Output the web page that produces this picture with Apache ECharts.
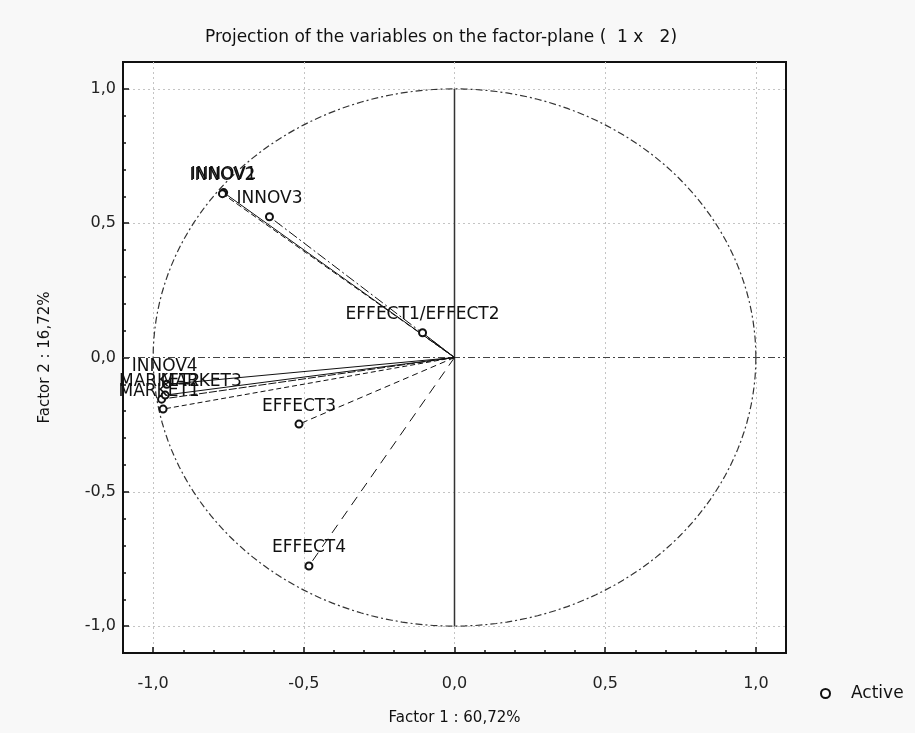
<!DOCTYPE html>
<html>
<head>
<meta charset="utf-8">
<style>
  html, body { margin: 0; padding: 0; background: #f8f8f8; }
  #chart { width: 915px; height: 733px; }
</style>
<script src="https://cdn.jsdelivr.net/npm/echarts@6/dist/echarts.min.js"></script>
</head>
<body>
<div id="chart"></div>
<script>
// variables projected on the factor plane (Factor 1 x Factor 2)
const varNames = ['INNOV1', 'INNOV2', 'INNOV3', 'INNOV4', 'MARKET1', 'MARKET2', 'MARKET3', 'EFFECT1/EFFECT2', 'EFFECT3', 'EFFECT4']
const factor1 = [-0.766, -0.770, -0.614, -0.955, -0.967, -0.972, -0.960, -0.106, -0.516, -0.483]
const factor2 = [0.614, 0.610, 0.524, -0.100, -0.192, -0.155, -0.140, 0.092, -0.248, -0.776]

const font = 'DejaVu Sans, Liberation Sans, Arial, sans-serif'

// line dash of each vector (statistica draws them all a bit differently)
const dashes = ['solid', [6, 3], [10, 3, 2, 3], 'solid', [5, 3], [8, 2], 'solid', 'solid', [6, 4], [10, 7]]
// nudges for the labels that pile up near the left edge
const labelNudge = { 'INNOV4': [-2, 0], 'MARKET1': [-4, 0], 'MARKET2': [-2, 0], 'MARKET3': [36, 4] }

const chart = echarts.init(document.getElementById('chart'))

// unit circle (correlation circle)
const circle = []
for (let a = 0; a <= 360; a += 2) {
  const r = a * Math.PI / 180
  circle.push([Math.cos(r), Math.sin(r)])
}

const vectorSeries = varNames.map((n, i) => ({
  type: 'line',
  name: 'vec_' + n,
  data: [[0, 0], [factor1[i], factor2[i]]],
  symbol: 'none',
  silent: true,
  z: 3,
  lineStyle: { color: '#111', width: 1, type: dashes[i] }
}))

const points = varNames.map((n, i) => ({ name: n, value: [factor1[i], factor2[i]] }))

const tickFmt = v => v.toFixed(1).replace('.', ',')

const option = {
  backgroundColor: '#f8f8f8',
  animation: false,
  title: {
    text: 'Projection of the variables on the factor-plane (  1 x   2)',
    left: 436,
    textAlign: 'center',
    top: 24,
    textStyle: { fontFamily: font, fontSize: 17, fontWeight: 'normal', color: '#111' }
  },
  legend: {
    data: ['Active'],
    left: 815,
    top: 680,
    itemWidth: 9,
    itemHeight: 9,
    itemGap: 10,
    icon: 'emptyCircle',
    itemStyle: { color: '#111', borderColor: '#111', borderWidth: 2.5 },
    textStyle: { fontFamily: font, fontSize: 17, color: '#111', padding: [0, 0, 0, 16] }
  },
  grid: {
    left: 123,
    right: 129,
    top: 62,
    bottom: 80,
    show: true,
    backgroundColor: '#fff',
    borderColor: '#111',
    borderWidth: 2
  },
  xAxis: {
    type: 'value',
    min: -1.1,
    max: 1.1,
    splitNumber: 4,
    name: 'Factor 1 : 60,72%',
    nameLocation: 'middle',
    nameGap: 58,
    nameTextStyle: { fontFamily: font, fontSize: 15, color: '#111' },
    axisLine: { show: true, onZero: false, lineStyle: { color: '#111', width: 2 } },
    axisTick: { show: true, inside: true, length: 6, lineStyle: { color: '#111', width: 1.5 } },
    minorTick: { show: true, splitNumber: 5, length: 3, lineStyle: { color: '#111', width: 1.5 } },
    axisLabel: {
      showMinLabel: false,
      showMaxLabel: false,
      margin: 23,
      fontFamily: font,
      fontSize: 16,
      color: '#222',
      formatter: tickFmt
    },
    splitLine: { show: true, showMinLine: false, showMaxLine: false, lineStyle: { color: '#c4c4c4', type: [2, 3], width: 1 } }
  },
  yAxis: {
    type: 'value',
    min: -1.1,
    max: 1.1,
    splitNumber: 4,
    name: 'Factor 2 : 16,72%',
    nameLocation: 'middle',
    nameRotate: 90,
    nameGap: 70,
    nameTextStyle: { fontFamily: font, fontSize: 15, color: '#111' },
    axisLine: { show: true, onZero: false, lineStyle: { color: '#111', width: 2 } },
    axisTick: { show: true, inside: true, length: 6, lineStyle: { color: '#111', width: 1.5 } },
    minorTick: { show: true, splitNumber: 5, length: 3, lineStyle: { color: '#111', width: 1.5 } },
    axisLabel: {
      showMinLabel: false,
      showMaxLabel: false,
      margin: 7,
      fontFamily: font,
      fontSize: 16,
      color: '#222',
      formatter: tickFmt
    },
    splitLine: { show: true, showMinLine: false, showMaxLine: false, lineStyle: { color: '#c4c4c4', type: [2, 3], width: 1 } }
  },
  series: [
    {
      type: 'line',
      name: 'circle',
      data: circle,
      symbol: 'none',
      silent: true,
      z: 2,
      lineStyle: { color: '#333', width: 1.2, type: [7, 3, 2, 3] }
    },
    {
      type: 'line',
      name: 'axis0',
      data: [[0, -1], [0, 1]],
      symbol: 'none',
      silent: true,
      z: 2,
      lineStyle: { color: '#333', width: 1.5, type: 'solid' }
    },
    {
      type: 'line',
      name: 'hline0',
      data: [[-1.1, 0], [1.1, 0]],
      symbol: 'none',
      silent: true,
      z: 2,
      lineStyle: { color: '#444', width: 1.2, type: [7, 3, 2, 3] }
    },
    ...vectorSeries,
    {
      type: 'scatter',
      name: 'Active',
      data: points,
      symbol: 'emptyCircle',
      symbolSize: 7,
      z: 5,
      itemStyle: { color: '#111', borderColor: '#111', borderWidth: 1.8, opacity: 1 },
      label: {
        show: true,
        position: 'top',
        distance: 5,
        formatter: p => p.name,
        fontFamily: font,
        fontSize: 17,
        color: '#111'
      },
      // labels of the left cluster are pushed around like in the original
      labelLayout: params => {
        const nudge = labelNudge[varNames[params.dataIndex]]
        return nudge ? { dx: nudge[0], dy: nudge[1], hideOverlap: false } : { hideOverlap: false }
      }
    }
  ]
}

chart.setOption(option)
</script>
</body>
</html>
